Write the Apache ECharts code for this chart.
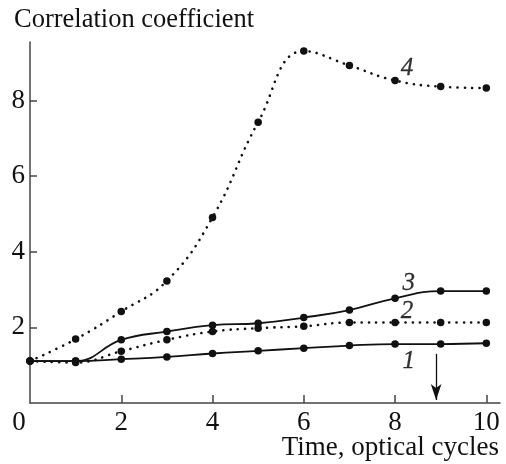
<!DOCTYPE html>
<html>
<head>
<meta charset="utf-8">
<script src="https://cdn.jsdelivr.net/npm/echarts@6/dist/echarts.min.js"></script>
<style>
html,body{margin:0;padding:0;background:#fff;}
#c{width:506px;height:464px;}
</style>
</head>
<body>
<div id="c"></div>
<script>
var times = [0, 1, 2, 3, 4, 5, 6, 7, 8, 9, 10];
var curve1 = [1.11, 1.11, 1.16, 1.22, 1.31, 1.38, 1.45, 1.52, 1.56, 1.56, 1.58];
var curve2 = [1.11, 1.07, 1.37, 1.67, 1.89, 1.98, 2.03, 2.13, 2.13, 2.13, 2.13];
var curve3 = [1.11, 1.11, 1.67, 1.89, 2.06, 2.11, 2.26, 2.46, 2.77, 2.96, 2.96];
var curve4 = [1.11, 1.69, 2.42, 3.23, 4.91, 7.43, 9.31, 8.93, 8.53, 8.37, 8.33];
var curveNames = ['1', '2', '3', '4'];
var labelPos = [[8.3, 1.09], [8.26, 2.42], [8.3, 3.17], [8.26, 8.86]];
var arrowX = 8.9;
var arrowFromY = 1.3;
var arrowToY = 0.08;
var xTicks = [2, 4, 6, 8, 10];
var xLabels = [0, 2, 4, 6, 8, 10];
var yTicks = [2, 4, 6, 8];
var yTitle = 'Correlation coefficient';
var xTitle = 'Time, optical cycles';

var serif = 'Liberation Serif';
function pairs(ys){ return times.map(function(t,i){ return [t, ys[i]]; }); }

var lineBase = {
  type: 'line', smooth: 0.45, symbol: 'circle', symbolSize: 7.5,
  itemStyle: { color: '#111' }, z: 3
};
function mk(name, ys, dotted, extra){
  var s = Object.assign({}, lineBase, {
    name: name, data: pairs(ys),
    lineStyle: dotted ? { color: '#111', width: 2.6, type: [0.1, 7.2], cap: 'round' }
                      : { color: '#111', width: 1.8 }
  });
  return Object.assign(s, extra || {});
}

var labelSeries = {
  type: 'scatter', symbolSize: 0, silent: true,
  data: labelPos.map(function(p, i){ return { value: p, name: curveNames[i] }; }),
  label: {
    show: true, position: 'inside',
    formatter: function(p){ return p.name; },
    fontFamily: serif, fontStyle: 'italic', fontSize: 25, color: '#000',
    textBorderColor: '#000', textBorderWidth: 0.3
  }
};

var option = {
  animation: false,
  backgroundColor: '#fff',
  title: [{
    text: yTitle, left: 9, top: 2,
    textStyle: { fontFamily: serif, fontWeight: 'normal', fontSize: 26.5, color: '#111' }
  }, {
    text: xTitle, right: 2, top: 429,
    textStyle: { fontFamily: serif, fontWeight: 'normal', fontSize: 27, color: '#111' }
  }],
  grid: { left: 30, right: 6, top: 42, bottom: 61, containLabel: false, outerBoundsMode: 'none' },
  xAxis: {
    type: 'value', min: 0, max: 10.3,
    axisLine: { lineStyle: { color: '#444', width: 1.5 } },
    axisTick: { show: true, inside: true, length: 8, customValues: xTicks, lineStyle: { color: '#444', width: 1.5 } },
    axisLabel: {
      customValues: xLabels, margin: 6,
      fontFamily: serif, fontSize: 27, color: '#111',
      formatter: function(v){ return v === 0 ? '{z|0}' : String(v); },
      rich: { z: { fontFamily: serif, fontSize: 27, color: '#111', padding: [0, 22, 0, 0] } }
    },
    splitLine: { show: false }
  },
  yAxis: {
    type: 'value', min: 0, max: 9.55,
    axisLine: { show: true, lineStyle: { color: '#444', width: 1.5 } },
    axisTick: { show: true, inside: true, length: 7, customValues: yTicks, lineStyle: { color: '#444', width: 1.5 } },
    axisLabel: {
      customValues: yTicks, margin: 5,
      fontFamily: serif, fontSize: 27, color: '#111'
    },
    splitLine: { show: false }
  },
  series: [
    mk('1', curve1, false),
    mk('2', curve2, true),
    mk('3', curve3, false),
    mk('4', curve4, true, {
      markLine: {
        silent: true, symbol: ['none', 'arrow'], symbolSize: [8, 16],
        label: { show: false },
        lineStyle: { color: '#111', width: 1.3, type: 'solid' },
        data: [[{ coord: [arrowX, arrowFromY] }, { coord: [arrowX, arrowToY] }]]
      }
    }),
    labelSeries
  ]
};
var chart = echarts.init(document.getElementById('c'), null, { renderer: 'canvas' });
chart.setOption(option);
</script>
</body>
</html>
